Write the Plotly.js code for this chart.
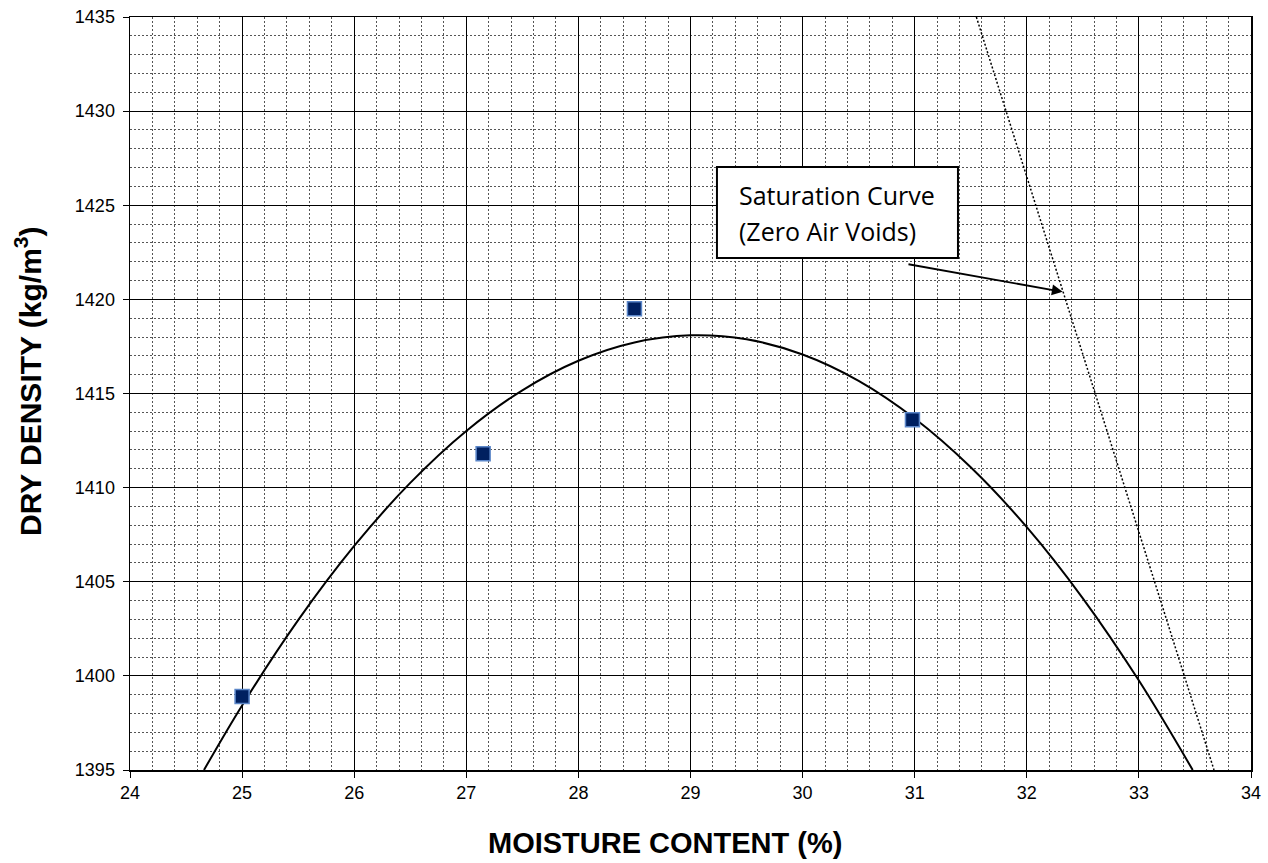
<!DOCTYPE html>
<html>
<head>
<meta charset="utf-8">
<script src="https://cdn.plot.ly/plotly-3.0.1.min.js"></script>
<style>
  html, body { margin: 0; padding: 0; background: #ffffff; }
  #chart { width: 1268px; height: 863px; }
</style>
</head>
<body>
<div id="chart"></div>
<script>
// Compaction test results
const moisture = [25.0, 27.15, 28.5, 30.98];
const density = [1398.9, 1411.8, 1419.5, 1413.6];

// Fitted compaction curve
const trendX = [24.66, 25.0, 25.5, 26.0, 26.5, 27.0, 27.5, 28.0, 28.5, 29.0, 29.5, 30.0, 30.5, 31.0, 31.5, 32.0, 32.5, 33.0, 33.48];
const trendY = [1395.0, 1398.43, 1402.96, 1406.9, 1410.25, 1413.01, 1415.17, 1416.74, 1417.71, 1418.09, 1417.88, 1417.07, 1415.67, 1413.67, 1411.08, 1407.9, 1404.12, 1399.75, 1395.0];

// Zero air voids (saturation) line
const satX = [31.55, 32.08, 32.61, 33.14, 33.67];
const satY = [1435, 1425, 1415, 1405, 1395];

// Axis ranges and labels
const xRange = [24, 34];
const yRange = [1395, 1435];
const xTitle = 'MOISTURE CONTENT (%)';
const yTitle = 'DRY DENSITY (kg/m<sup>3</sup>)';
const noteLines = ['Saturation Curve', '(Zero Air Voids)'];

const tickFont = { family: 'Liberation Sans, Arial, sans-serif', size: 18, color: '#000000' };
const titleFont = { family: 'Liberation Sans, Arial, sans-serif', size: 29, color: '#000000', weight: 'bold' };
const noteFont = { family: 'Open Sans, sans-serif', size: 25, color: '#000000' };

const traces = [
  {
    x: trendX, y: trendY, type: 'scatter', mode: 'lines',
    line: { color: '#000000', width: 2, shape: 'spline', smoothing: 1 },
    hoverinfo: 'skip', showlegend: false
  },
  {
    x: satX, y: satY, type: 'scatter', mode: 'lines',
    line: { color: '#000000', width: 1.5, dash: '2px,2px' },
    hoverinfo: 'skip', showlegend: false
  },
  {
    x: moisture, y: density, type: 'scatter', mode: 'markers',
    marker: { symbol: 'square', size: 14, color: '#002060', line: { color: '#5B86C8', width: 1.5 } },
    showlegend: false
  }
];

const axisCommon = {
  showline: true, linecolor: '#000000', linewidth: 1.5, mirror: true,
  ticks: 'outside', ticklen: 6, tickcolor: '#000000', tickwidth: 1,
  showgrid: true, gridcolor: '#000000', gridwidth: 1,
  zeroline: false, tickfont: tickFont
};

const layout = {
  width: 1268, height: 863,
  margin: { l: 130, r: 17, t: 17, b: 93 },
  paper_bgcolor: '#ffffff', plot_bgcolor: '#ffffff',
  showlegend: false,
  xaxis: Object.assign({}, axisCommon, {
    range: xRange, tick0: 24, dtick: 1,
    minor: { dtick: 0.2, showgrid: true, gridcolor: '#555555', griddash: '2px,2px', gridwidth: 1 }
  }),
  yaxis: Object.assign({}, axisCommon, {
    range: yRange, tick0: 1395, dtick: 5, ticklabelstandoff: 4,
    minor: { dtick: 1, showgrid: true, gridcolor: '#555555', griddash: '2px,2px', gridwidth: 1 }
  }),
  shapes: [
    {
      type: 'rect', xref: 'x', yref: 'y',
      x0: 29.236, x1: 31.386, y0: 1422.2, y1: 1427.03,
      line: { color: '#000000', width: 2 }, fillcolor: '#ffffff', layer: 'above'
    }
  ],
  annotations: [
    { xref: 'x', yref: 'y', x: 29.415, y: 1425.54, xanchor: 'left', yanchor: 'middle',
      text: noteLines[0], showarrow: false, font: noteFont },
    { xref: 'x', yref: 'y', x: 29.415, y: 1423.63, xanchor: 'left', yanchor: 'middle',
      text: noteLines[1], showarrow: false, font: noteFont },
    { xref: 'x', yref: 'y', axref: 'x', ayref: 'y',
      x: 32.32, y: 1420.4, ax: 30.931, ay: 1421.88,
      text: '', showarrow: true, arrowhead: 2, arrowsize: 1.2, arrowwidth: 1.8, arrowcolor: '#000000',
      standoff: 0, startstandoff: 0 },
    { xref: 'paper', yref: 'paper', x: 0.4773, y: -0.0969, xanchor: 'center', yanchor: 'middle',
      text: xTitle, showarrow: false, font: titleFont },
    { xref: 'paper', yref: 'paper', x: -0.091, y: 0.5166, xanchor: 'center', yanchor: 'middle',
      text: yTitle, textangle: -90, showarrow: false, font: Object.assign({}, titleFont, { size: 30 }) }
  ]
};

Plotly.newPlot('chart', traces, layout, { staticPlot: true, displayModeBar: false });
</script>
</body>
</html>
